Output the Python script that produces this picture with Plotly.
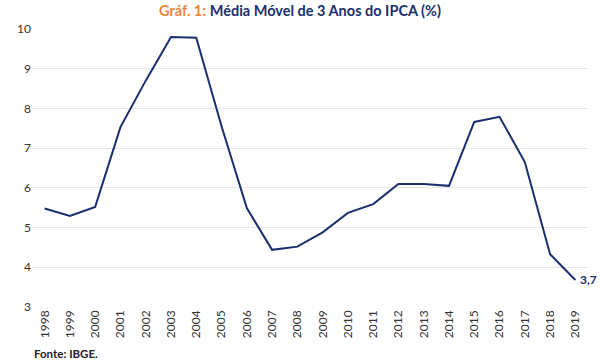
import plotly.graph_objects as go

years = [str(y) for y in range(1998, 2020)]
ipca_mm3 = [5.48, 5.29, 5.52, 7.53, 8.70, 9.80, 9.78, 7.55, 5.49, 4.44, 4.52,
            4.88, 5.37, 5.59, 6.10, 6.10, 6.05, 7.66, 7.79, 6.65, 4.33, 3.68]
y_ticks = [3, 4, 5, 6, 7, 8, 9, 10]
last_label = "3,7"

navy = "#1B2F6E"
orange = "#E8853A"

fig = go.Figure()
fig.add_trace(go.Scatter(x=years, y=ipca_mm3, mode="lines",
                         line=dict(color=navy, width=2), hoverinfo="skip"))

fig.add_annotation(x=len(years) - 1, y=ipca_mm3[-1], text=f"<b>{last_label}</b>",
                   showarrow=False, xanchor="left", yanchor="middle", xshift=3,
                   font=dict(color=navy, size=12, family="Lato"))

fig.update_layout(
    width=600, height=363,
    margin=dict(l=32, r=12, t=29, b=56),
    paper_bgcolor="white", plot_bgcolor="white",
    showlegend=False,
    font=dict(family="Lato", color="#333333", size=11),
    title=dict(text=f"<span style='color:{orange}'><b>Gráf. 1:</b></span> <b>Média Móvel de 3 Anos do IPCA (%)</b>",
               x=0.5, xanchor="center", y=0.985, yanchor="top",
               font=dict(family="Lato", size=14.5, color=navy)),
    xaxis=dict(type="category", tickangle=-90, showgrid=False, zeroline=False,
               showline=False, ticks="", tickfont=dict(size=12, color="#333333"),
               range=[-0.5, len(years) - 0.5], automargin=False),
    yaxis=dict(range=[3, 10], tickvals=y_ticks, showgrid=True, gridcolor="#E6E6E6",
               gridwidth=1, zeroline=False, showline=False, ticks="",
               tickfont=dict(size=12, color="#333333"), automargin=False),
)

fig.add_annotation(x=0.0, y=-0.135, xref="paper", yref="paper", xanchor="left", yanchor="top",
                   text="<b>Fonte: IBGE.</b>", showarrow=False,
                   font=dict(size=11.5, color="#222222", family="Lato"))

fig.write_html("out.html", config={"displayModeBar": False},
               post_script="document.body.style.margin='0';")
